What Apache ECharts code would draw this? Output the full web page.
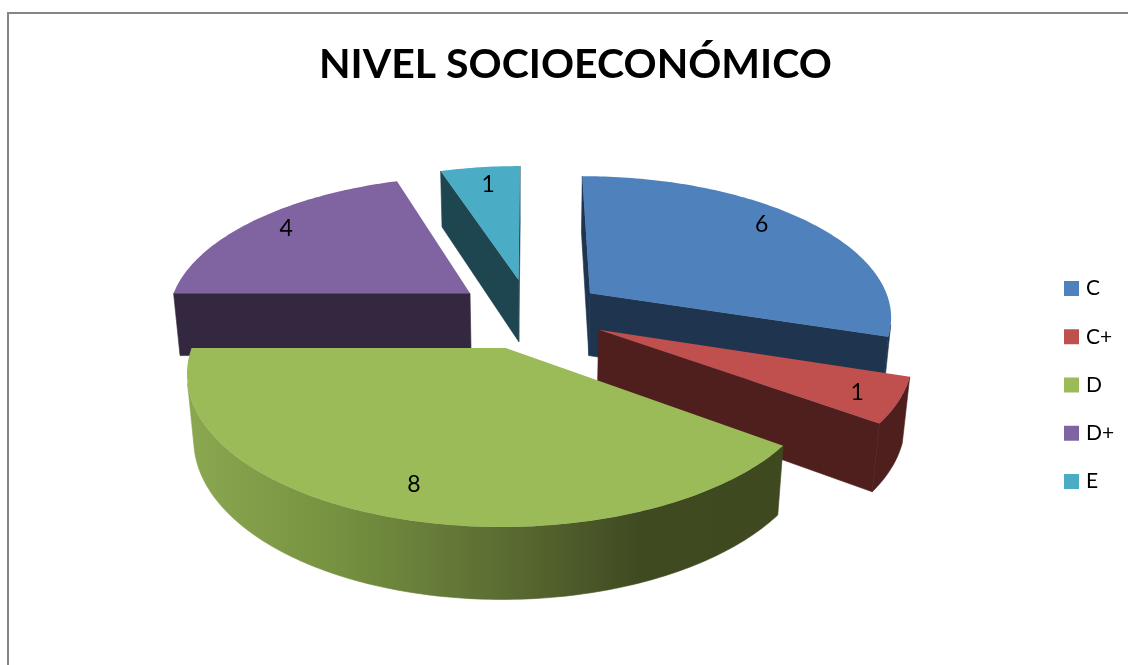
<!DOCTYPE html>
<html>
<head>
<meta charset="utf-8">
<style>html,body{margin:0;padding:0;background:#fff}#chart{width:1128px;height:665px}</style>
<script src="https://cdn.jsdelivr.net/npm/echarts@6/dist/echarts.min.js"></script>
</head>
<body>
<div id="chart"></div>
<script>
// Socioeconomic level counts
const categories = ['C', 'C+', 'D', 'D+', 'E'];
const counts = [6, 1, 8, 4, 1];
const topColors = ['#4f81bd', '#c0504d', '#9bbb59', '#8064a2', '#4bacc6'];
const wallColors = ['#1f344f', '#4f1f1e', '#3f4a21', '#33283f', '#1e4650'];
// Painter's order for the exploded wedges: far wedges first
const paintOrder = [4, 3, 0, 1, 2];
// Shading of the large wedge's curved side, left to right
const curvedShade = [[0, '#8ba750'], [0.24, '#779341'], [0.53, '#5b6c32'], [0.76, '#3f4a21'], [1, '#3e4920']];
// Small screen offsets that seat each value label on its wedge
const labelNudge = [[-14, -6.5], [6, 3.5], [6, -3.5], [2, -2.5], [3, 2.5]];

// Camera and pie shape
const view = { cx: 530, cy: 313.5, scale: 303, tilt: 27.6 * Math.PI / 180, dist: 5.9 };
const explode = 0.25, thickness = 0.24, labelRadius = 0.85;

const total = counts.reduce((a, b) => a + b, 0);
const sinT = Math.sin(view.tilt), cosT = Math.cos(view.tilt);
const camera = [0, -view.dist * cosT, view.dist * sinT];

// World point (x right, y away, z up) to screen
function project(x, y, z) {
  const zc = view.dist + y * cosT - z * sinT;
  const yc = y * sinT + z * cosT;
  const f = view.scale * view.dist;
  return [view.cx + f * x / zc, view.cy - f * yc / zc];
}

function wedgeShapes(index, api) {
  const before = counts.slice(0, index).reduce((a, b) => a + b, 0);
  const value = api.value(0);
  const a0 = before / total * 2 * Math.PI;
  const a1 = (before + value) / total * 2 * Math.PI;
  const mid = (a0 + a1) / 2;
  const ox = explode * Math.sin(mid), oy = explode * Math.cos(mid);
  const rim = a => [ox + Math.sin(a), oy + Math.cos(a)];
  const steps = Math.max(4, Math.round((a1 - a0) / (Math.PI / 180)));
  const angles = [];
  for (let i = 0; i <= steps; i++) angles.push(a0 + (a1 - a0) * i / steps);
  const faces = (px, py, nx, ny) => (camera[0] - px) * nx + (camera[1] - py) * ny > 0;
  const children = [];
  const poly = (points, fill, seam) => children.push({
    type: 'polygon', shape: { points },
    style: { fill, stroke: seam ? fill : null, lineWidth: seam ? 0.6 : 0 }
  });

  // Flat radial cuts, kept only when they face the camera
  const radial = (a, nx, ny) => {
    const p = rim(a);
    if (faces(ox, oy, nx, ny)) {
      poly([project(ox, oy, 0), project(p[0], p[1], 0), project(p[0], p[1], -thickness), project(ox, oy, -thickness)], wallColors[index], true);
    }
  };
  radial(a0, -Math.cos(a0), Math.sin(a0));
  radial(a1, Math.cos(a1), -Math.sin(a1));

  // Curved outer side
  const seen = angles.filter(a => {
    const p = rim(a);
    return faces(p[0], p[1], Math.sin(a), Math.cos(a));
  });
  if (seen.length > 1) {
    const up = seen.map(a => { const p = rim(a); return project(p[0], p[1], 0); });
    const down = seen.map(a => { const p = rim(a); return project(p[0], p[1], -thickness); }).reverse();
    const pts = up.concat(down);
    let fill = wallColors[index];
    if (index === 2) {
      const xs = pts.map(p => p[0]);
      fill = {
        type: 'linear', global: true, x: Math.min(...xs), y: 0, x2: Math.max(...xs), y2: 0,
        colorStops: curvedShade.map(s => ({ offset: s[0], color: s[1] }))
      };
    }
    poly(pts, fill, true);
  }

  // Top face
  const top = [project(ox, oy, 0)].concat(angles.map(a => { const p = rim(a); return project(p[0], p[1], 0); }));
  poly(top, topColors[index], false);

  // Value label on the top face
  const lp = project(ox + labelRadius * Math.sin(mid), oy + labelRadius * Math.cos(mid), 0);
  children.push({
    type: 'text', z2: 10,
    style: {
      x: lp[0] + labelNudge[index][0], y: lp[1] + labelNudge[index][1], text: String(value),
      fill: '#000', align: 'center', verticalAlign: 'middle', font: '23px Lato'
    }
  });
  return { type: 'group', children };
}

const chart = echarts.init(document.getElementById('chart'), null, { renderer: 'canvas' });
chart.setOption({
  animation: false,
  backgroundColor: '#fff',
  title: {
    text: 'NIVEL SOCIOECONÓMICO', left: 319, top: 44, padding: 0,
    textStyle: { fontFamily: 'Lato', fontWeight: 'bold', fontSize: 41, color: '#000' }
  },
  legend: {
    data: categories, orient: 'vertical', left: 1064, top: 278, padding: 0,
    itemWidth: 15, itemHeight: 15, itemGap: 27.25, icon: 'rect',
    textStyle: { fontFamily: 'Lato', fontSize: 21, color: '#000', padding: [0, 0, 0, 2] }
  },
  graphic: [{
    type: 'rect', silent: true,
    shape: { x: 8, y: 13, width: 1400, height: 1000 },
    style: { fill: null, stroke: '#868686', lineWidth: 2 }
  }],
  series: paintOrder.map(i => ({
    type: 'custom',
    name: categories[i],
    coordinateSystem: 'none',
    itemStyle: { color: topColors[i] },
    data: [[counts[i]]],
    renderItem: (params, api) => wedgeShapes(i, api)
  }))
});
</script>
</body>
</html>
